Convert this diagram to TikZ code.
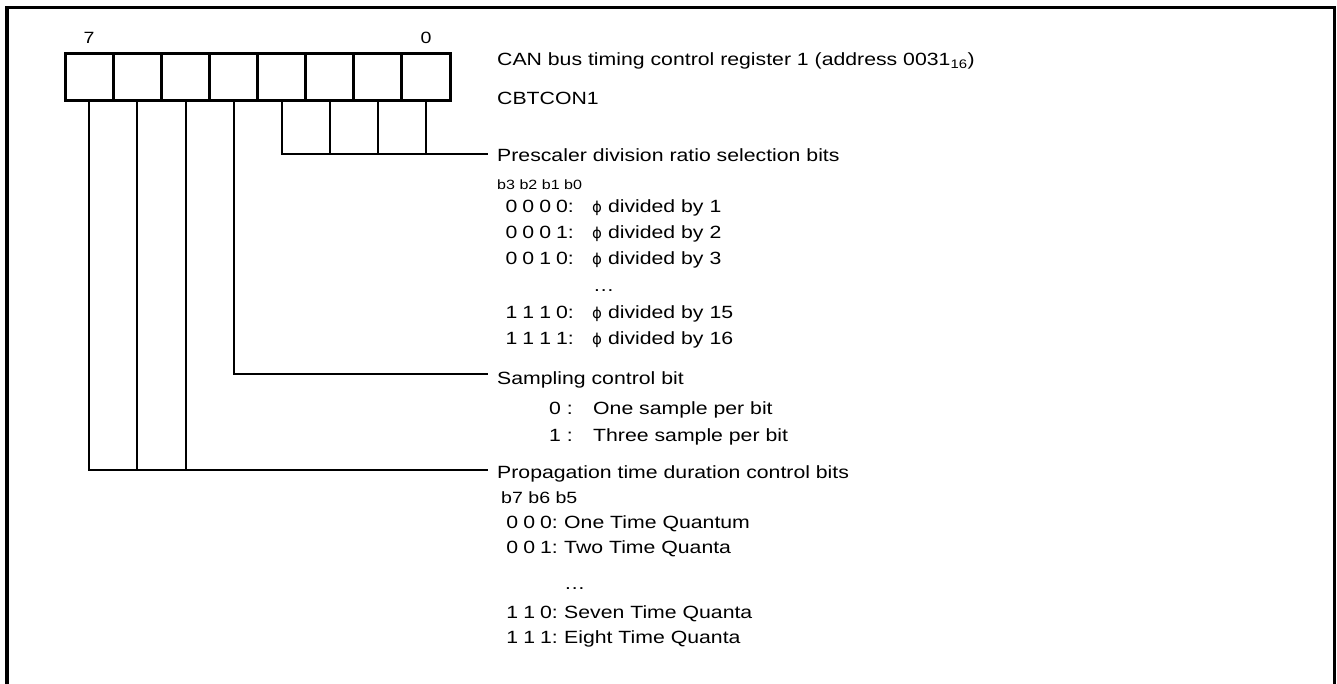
\documentclass[tikz,border=0pt]{standalone}
\usepackage{fontspec}
\setmainfont{Liberation Sans}[FakeStretch=1.2]
\newfontfamily\grkfont{DejaVu Sans}
\usetikzlibrary{positioning}
\newcommand{\phisym}{{\grkfont\fontsize{15}{18}\selectfont ϕ}}
\newcommand{\bitcode}[1]{{\spaceskip=5pt\relax #1}}
\tikzset{
  % one cell of the register
  bitcell/.style={draw, line width=3pt, minimum width=48.1pt, minimum height=47pt, inner sep=0pt, outer sep=0pt},
  % headings at the end of a connector
  desc/.style={anchor=base west, inner xsep=9pt, inner ysep=0pt, font=\fontsize{17.7}{21}\selectfont},
  % plain text lines
  code/.style={anchor=base west, inner sep=0pt, font=\fontsize{17.7}{21}\selectfont},
  bits/.style={code, anchor=base east},
  small/.style={code, font=\fontsize{13.4}{16}\selectfont},
  wire/.style={line width=2pt},
}
\begin{document}
\begin{tikzpicture}[x=1pt,y=-1pt]
\useasboundingbox (0,0) rectangle (1337,684);
% frame
\draw[line width=3.5pt] (7,684) -- (7,7.5) -- (1334.5,7.5) -- (1334.5,684);
% register cells, b7 on the left
\foreach \i in {0,...,7}
  \node[bitcell] (b\i) at ({426-48.1*\i},77.5) {};
\node[small, font=\fontsize{16.3}{18}\selectfont, anchor=center] (n7) at (89,38) {7};
\node[small, font=\fontsize{16.3}{18}\selectfont, anchor=center] (n0) at (426,38) {0};
\node[code] (title) at (497,66) {CAN bus timing control register 1 (address 0031\textsubscript{16})};
\node[code] (name) at (497,105) {CBTCON1};

% prescaler bits b3..b0
\node[desc] (pre) at (488,162) {Prescaler division ratio selection bits};
\node[small] (preh) at (497,190) {b3 b2 b1 b0};
\foreach \yy/\c/\n [count=\k] in {213/0 0 0 0/1, 239/0 0 0 1/2, 265/0 0 1 0/3, 318/1 1 1 0/15, 344/1 1 1 1/16}{
  \node[bits] (pc\k) at (574,\yy) {\bitcode{\c:}};
  \node[code] (pv\k) at (592,\yy) {\phisym\ divided by \n};
}
\node[code] (pdots) at (593,291) {\dots};
\coordinate (prejoin) at ([yshift=8pt]pre.base west);
\draw[wire] (b3.south) |- (prejoin);
\foreach \i in {0,1,2}
  \draw[wire] (b\i.south) -- (b\i.south |- prejoin);

% sampling bit b4
\node[desc] (smp) at (488,384) {Sampling control bit};
\node[bits] (sc1) at (573,414) {0 :};
\node[code] (sv1) at (593,414) {One sample per bit};
\node[bits] (sc2) at (573,441) {1 :};
\node[code] (sv2) at (593,441) {Three sample per bit};
\coordinate (smpjoin) at ([yshift=10pt]smp.base west);
\draw[wire] (b4.south) |- (smpjoin);

% propagation bits b7..b5
\node[desc] (prp) at (488,478) {Propagation time duration control bits};
\node[small, font=\fontsize{16.3}{18}\selectfont] (prph) at (501,503) {b7 b6 b5};
\foreach \yy/\c/\t [count=\k] in {528/0 0 0/One Time Quantum, 553/0 0 1/Two Time Quanta, 618/1 1 0/Seven Time Quanta, 643/1 1 1/Eight Time Quanta}{
  \node[bits] (gc\k) at (558,\yy) {\bitcode{\c:}};
  \node[code] (gv\k) at (564,\yy) {\t};
}
\node[code] (gdots) at (564,589) {\dots};
\coordinate (prpjoin) at ([yshift=8pt]prp.base west);
\draw[wire] (b7.south) |- (prpjoin);
\foreach \i in {5,6}
  \draw[wire] (b\i.south) -- (b\i.south |- prpjoin);
\end{tikzpicture}
\end{document}
